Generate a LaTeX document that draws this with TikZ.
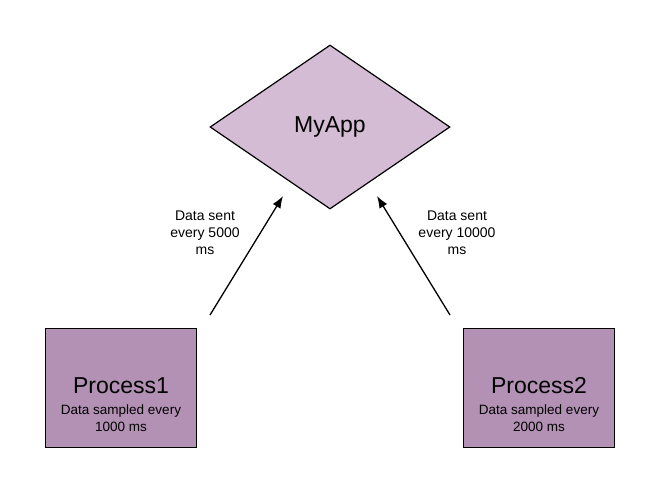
\documentclass[tikz,border=0pt]{standalone}
\usepackage{fontspec}
\setmainfont{Liberation Sans}
\usetikzlibrary{shapes.geometric,arrows.meta}
\definecolor{appfill}{RGB}{212,188,212}
\definecolor{procfill}{RGB}{179,145,181}
\tikzset{
  appshape/.style={diamond, draw=black, line width=1.2pt, fill=appfill, minimum width=240pt, minimum height=164pt, aspect=1.46, inner sep=0pt, font=\fontsize{23}{27}\selectfont},
  procbox/.style={draw=black, line width=1.8pt, fill=procfill, minimum width=151pt, minimum height=119pt, inner sep=0pt, align=center},
  proctitle/.style={font=\fontsize{23}{27}\selectfont},
  note/.style={align=center, font=\fontsize{13.5}{17}\selectfont},
  flow/.style={line width=1.3pt, -{Latex[length=12pt,width=9pt]}}
}
\begin{document}
\begin{tikzpicture}[x=1pt,y=-1pt]
\useasboundingbox (0,0) rectangle (657,493);
\node[appshape] (app) at (330,127) {MyApp};
\node[procbox] (p1) at (121,388) {};
\node[proctitle] (p1t) at (121,386) {Process1};
\node[note] (p1n) at (121,418) {Data sampled every\\1000 ms};
\node[procbox] (p2) at (539,388) {};
\node[proctitle] (p2t) at (539,386) {Process2};
\node[note] (p2n) at (539,418) {Data sampled every\\2000 ms};
\coordinate (a1s) at (210,315);
\coordinate (a1e) at (283,196);
\coordinate (a2s) at (450,315);
\coordinate (a2e) at (377,196);
\draw[flow] (a1s) -- (a1e);
\draw[flow] (a2s) -- (a2e);
\node[note, font=\fontsize{14}{17}\selectfont] (l1) at (205,233) {Data sent\\every 5000\\ms};
\node[note, font=\fontsize{14}{17}\selectfont] (l2) at (457,233) {Data sent\\every 10000\\ms};
\end{tikzpicture}
\end{document}
